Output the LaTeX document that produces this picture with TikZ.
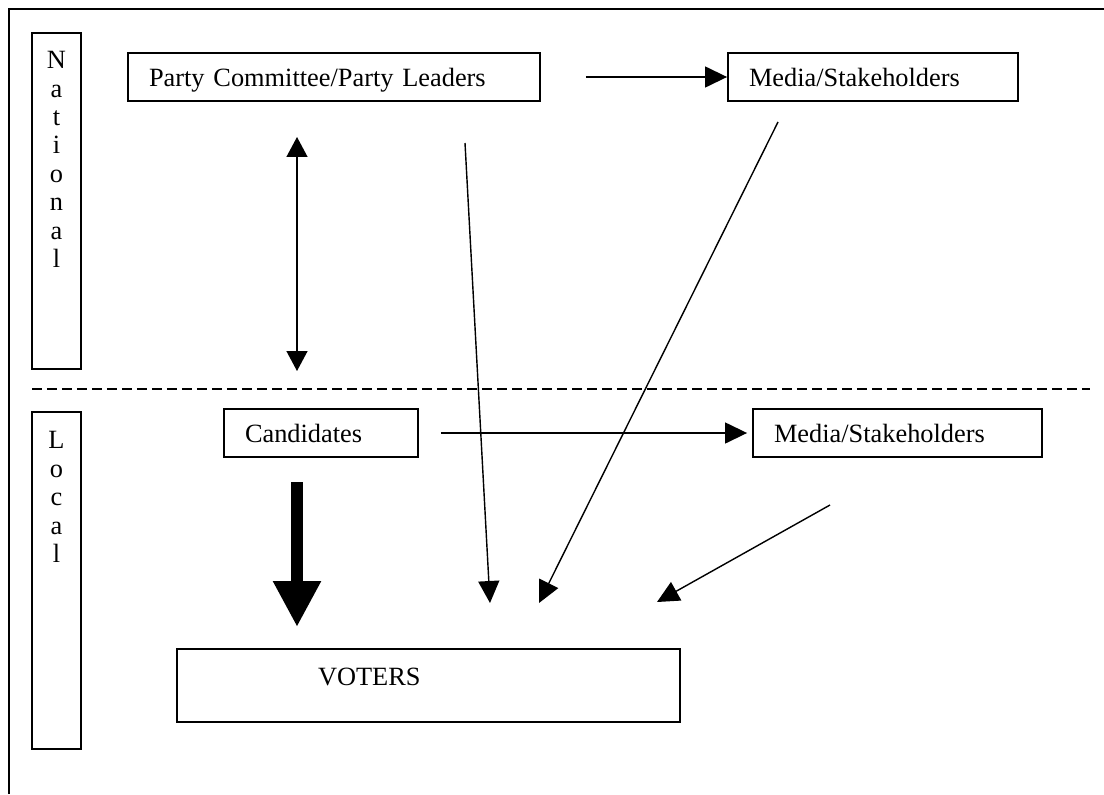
\documentclass[tikz,border=0pt]{standalone}
\usepackage{fontspec}
\setmainfont{Liberation Serif}
\usetikzlibrary{arrows.meta}

\begin{document}
\begin{tikzpicture}[x=0.02cm,y=-0.02cm,
    box/.style={draw,line width=1.1pt,minimum height=0.96cm,inner xsep=0.42cm,
      align=left,text width=#1,text height=12pt,text depth=1.5pt,font=\fontsize{15}{18}\selectfont},
    sidebox/.style={draw,line width=1.1pt,minimum width=0.98cm,minimum height=#1},
    letters/.style={anchor=north,align=center,inner sep=0pt,font=\fontsize{15}{16.2}\selectfont},
    thin/.style={line width=0.8pt,-{Triangle[length=4.4mm,width=4.2mm]}}]

        \useasboundingbox (0,0) rectangle (1104,794);
        % frame
        \draw[line width=1.1pt] (9,794) -- (9,9) -- (1104,9);

        % level boxes
        \node[sidebox=6.72cm] (nat) at (56.5,201) {};
        \node[letters] (natTxt) at (56.5,51) {N\\a\\t\\i\\o\\n\\a\\l};
        \node[sidebox=6.74cm] (loc) at (56.5,580.5) {};
        \node[letters] (locTxt) at (56.5,431) {L\\o\\c\\a\\l};

        \draw[line width=0.7pt,dash pattern=on 0.2cm off 0.1cm] (32,389) -- (1090,389);

        % actors
        \node[box=7.4cm] (party) at (334,77) {Party Committee/Party Leaders};
        \node[box=4.96cm] (mediaN) at (873,77) {Media/Stakeholders};
        \node[box=3.04cm] (cand) at (321,433) {Candidates};
        \node[box=4.94cm] (mediaL) at (897.5,433) {Media/Stakeholders};
        \node[box=4.42cm,inner xsep=2.82cm,minimum height=1.46cm] (voters) at (428.5,685.5) {\raisebox{5.5pt}{VOTERS}};

        \coordinate (dUp) at (297,137);
        \coordinate (dDn) at (297,371);
        \coordinate (pA) at (465,143);
        \coordinate (pB) at (490,603);
        \coordinate (mA) at (778,122);
        \coordinate (mB) at (539,603);
        \coordinate (lA) at (830,505);
        \coordinate (lB) at (657,602);
        \coordinate (cA) at (297,482);
        \coordinate (cB) at (297,627);

        \draw[thin,shorten <=0.9cm] (party.east) -- (mediaN.west);
        \draw[thin,{Triangle[length=4mm,width=4.2mm]}-{Triangle[length=4mm,width=4.2mm]}] (dUp) -- (dDn);
        \draw[thin,shorten <=0.44cm,shorten >=0.1cm] (cand.east) -- (mediaL.west);
        \draw[thin] (pA) -- (pB);
        \draw[thin] (mA) -- (mB);
        \draw[thin] (lA) -- (lB);
        \draw[line width=0.24cm,-{Triangle[length=9.2mm,width=9mm]}] (cA) -- (cB);
\end{tikzpicture}
\end{document}
